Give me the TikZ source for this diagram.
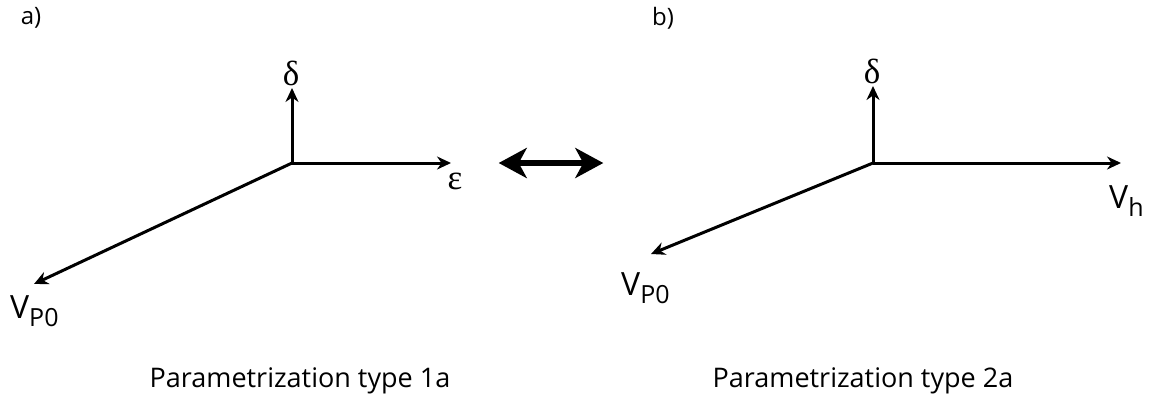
\documentclass[tikz,border=0pt]{standalone}
\usepackage{fontspec}
\setmainfont{Open Sans}
\newfontfamily\greekfont{Liberation Serif}
\usetikzlibrary{arrows.meta}
\newcommand{\mysub}[1]{\raisebox{-8pt}{\fontsize{25}{27}\selectfont #1}}
\begin{document}
\begin{tikzpicture}[x=1pt,y=-1pt,
  axis/.style={line width=3pt,-{Stealth[length=14pt,width=13pt]}},
  lbl/.style={inner sep=0pt,font=\fontsize{24}{26}\selectfont},
  vlbl/.style={inner sep=0pt,anchor=base west,font=\fontsize{32}{34}\selectfont},
  gl/.style={inner sep=0pt,font=\fontsize{35}{38}\greekfont},
  captxt/.style={inner sep=0pt,font=\fontsize{27}{30}\selectfont}]
\useasboundingbox (0,0) rectangle (1153,405);
% panel a
\coordinate (oa) at (292,163);
\coordinate (ua) at (292,88);
\coordinate (ra) at (451,163);
\coordinate (da) at (34,284);
\draw[axis] (oa) -- (ua);
\draw[axis] (oa) -- (ra);
\draw[axis] (oa) -- (da);
\node[gl] (dla) at (291,73) {δ};
\node[gl] (ela) at (455,181) {ε};
\node[vlbl] (vpa) at (10,318) {V\mysub{P0}};
\node[lbl] (la) at (31,18) {a)};
\node[captxt] (ca) at (300,381) {Parametrization type 1a};
% double arrow
\node[inner sep=0pt] (l) at (498,163) {};
\node[inner sep=0pt] (r) at (604,163) {};
\draw[line width=6.5pt,{Stealth[length=28pt,width=30pt,inset=8pt]}-{Stealth[length=28pt,width=30pt,inset=8pt]}] (l) -- (r);
% panel b
\coordinate (ob) at (873,163);
\coordinate (ub) at (873,86);
\coordinate (rb) at (1121,163);
\coordinate (db) at (651,254);
\draw[axis] (ob) -- (ub);
\draw[axis] (ob) -- (rb);
\draw[axis] (ob) -- (db);
\node[gl] (dlb) at (872,71) {δ};
\node[vlbl] (vh) at (1109,208) {V\mysub{h}};
\node[vlbl] (vpb) at (621,295) {V\mysub{P0}};
\node[lbl] (lb) at (663,18) {b)};
\node[captxt] (cb) at (863,381) {Parametrization type 2a};
\end{tikzpicture}
\end{document}
